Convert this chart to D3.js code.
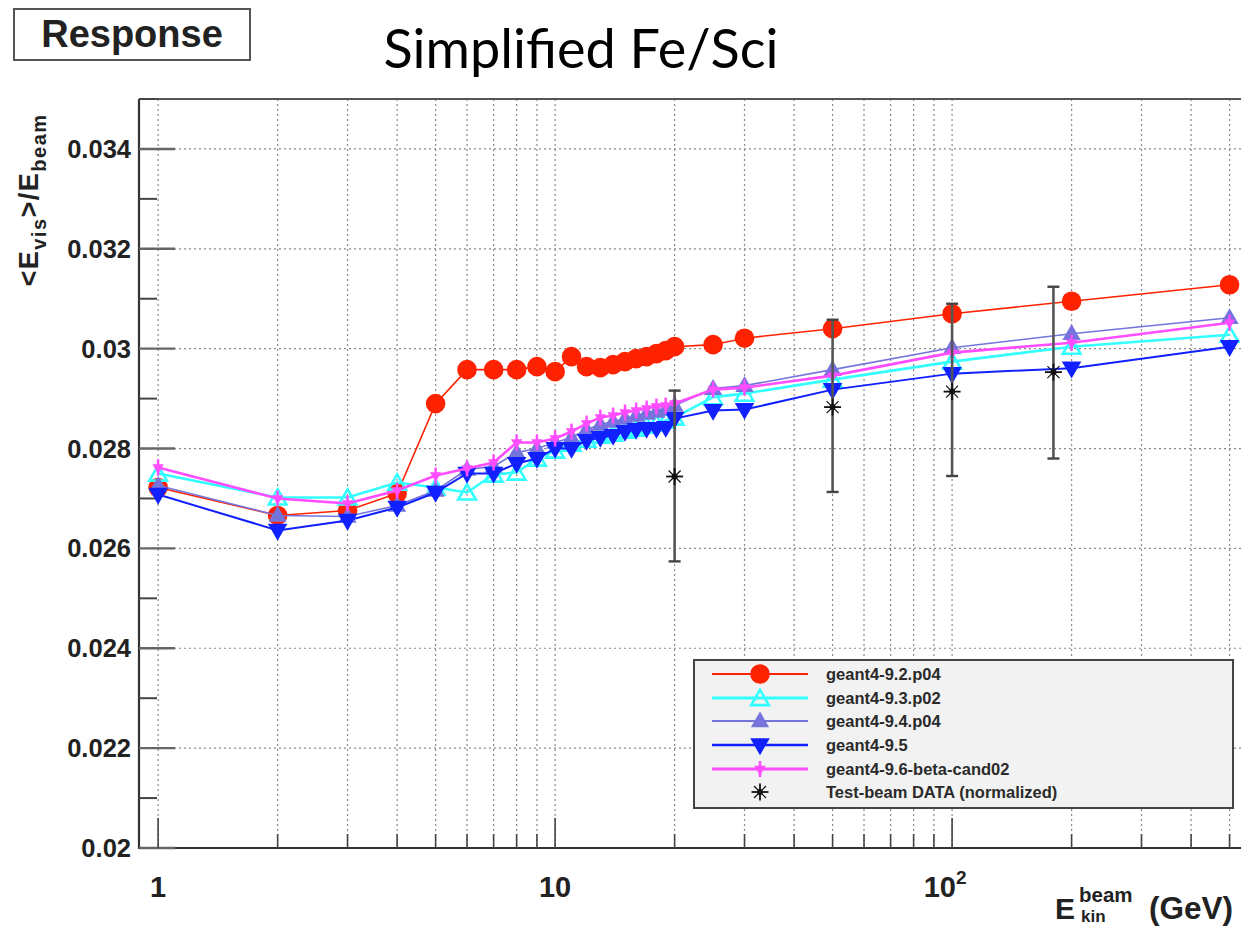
<!DOCTYPE html>
<html>
<head>
<meta charset="utf-8">
<script src="https://cdn.jsdelivr.net/npm/d3@7"></script>
<style>
  html, body { margin: 0; padding: 0; background: #fff; }
  svg { display: block; font-family: "Liberation Sans", Arial, sans-serif; }
</style>
</head>
<body>
<svg id="chart" width="1241" height="929"></svg>
<script>
// Beam energies (GeV) of the simulated runs
const energies = [1, 2, 3, 4, 5, 6, 7, 8, 9, 10, 11, 12, 13, 14, 15, 16, 17, 18, 19, 20, 25, 30, 50, 100, 200, 500];

// Mean visible energy fraction for each Geant4 version
const g4_92_p04 = [0.02722, 0.02666, 0.02676, 0.02710, 0.02890, 0.02958, 0.02958, 0.02958, 0.02964, 0.02954,
                   0.02984, 0.02964, 0.02962, 0.02968, 0.02974, 0.02980, 0.02984, 0.02990, 0.02996, 0.03004,
                   0.03008, 0.03021, 0.03040, 0.03070, 0.03095, 0.03128];
const g4_93_p02 = [0.02750, 0.02702, 0.02702, 0.02732, 0.02722, 0.02712, 0.02748, 0.02752, 0.02780, 0.02796,
                   0.02810, 0.02818, 0.02826, 0.02830, 0.02836, 0.02840, 0.02846, 0.02850, 0.02856, 0.02862,
                   0.02903, 0.02910, 0.02938, 0.02974, 0.03004, 0.03028];
const g4_94_p04 = [0.02726, 0.02666, 0.02664, 0.02686, 0.02716, 0.02758, 0.02764, 0.02792, 0.02800, 0.02812,
                   0.02822, 0.02838, 0.02848, 0.02854, 0.02860, 0.02866, 0.02870, 0.02874, 0.02878, 0.02886,
                   0.02920, 0.02926, 0.02958, 0.03002, 0.03030, 0.03062];
const g4_95     = [0.02708, 0.02636, 0.02656, 0.02682, 0.02712, 0.02750, 0.02750, 0.02770, 0.02780, 0.02800,
                   0.02800, 0.02816, 0.02822, 0.02826, 0.02834, 0.02838, 0.02840, 0.02840, 0.02842, 0.02860,
                   0.02876, 0.02878, 0.02918, 0.02950, 0.02961, 0.03004];
const g4_96_beta = [0.02762, 0.02700, 0.02690, 0.02716, 0.02746, 0.02760, 0.02772, 0.02812, 0.02812, 0.02820,
                    0.02834, 0.02850, 0.02862, 0.02866, 0.02872, 0.02876, 0.02880, 0.02884, 0.02886, 0.02890,
                    0.02918, 0.02922, 0.02946, 0.02992, 0.03012, 0.03052];

// Test-beam measurements with their error band
const dataEnergy = [20, 50, 100, 180];
const dataResp   = [0.02744, 0.02883, 0.02914, 0.02953];
const dataLow    = [0.02574, 0.02713, 0.02745, 0.02780];
const dataHigh   = [0.02916, 0.03058, 0.03090, 0.03124];

// Axis ticks
const yMajorTicks = [0.020, 0.022, 0.024, 0.026, 0.028, 0.030, 0.032, 0.034];
const yTickLabels = ["0.02", "0.022", "0.024", "0.026", "0.028", "0.03", "0.032", "0.034"];
const xMajorTicks = [1, 10, 100];

const legendLabels = ["geant4-9.2.p04", "geant4-9.3.p02", "geant4-9.4.p04", "geant4-9.5",
                      "geant4-9.6-beta-cand02", "Test-beam DATA (normalized)"];

const series = [
  { name: legendLabels[0], values: g4_92_p04, color: "#ff2200", width: 1.6, marker: "circle" },
  { name: legendLabels[1], values: g4_93_p02, color: "#33ffff", width: 2.6, marker: "openUp" },
  { name: legendLabels[2], values: g4_94_p04, color: "#7474dc", width: 1.6, marker: "up" },
  { name: legendLabels[3], values: g4_95,     color: "#1020ff", width: 2.0, marker: "down" },
  { name: legendLabels[4], values: g4_96_beta, color: "#ff4dff", width: 2.6, marker: "smallDown" }
];

const svg = d3.select("#chart");

const frame = { left: 139, top: 99, bottom: 848, right: 1261 };
const x = d3.scaleLog().domain([0.895, 600]).range([frame.left, frame.right]);
const y = d3.scaleLinear().domain([0.020, 0.035]).range([frame.bottom, frame.top]);

const plot = svg.append("g");

// grid
const xGridTicks = [];
for (let dec = 1; dec <= 100; dec *= 10) {
  for (let m = 1; m <= 9; m++) { if (m * dec <= 600) xGridTicks.push(m * dec); }
}
plot.append("g").selectAll("line").data(xGridTicks).join("line")
  .attr("x1", d => x(d)).attr("x2", d => x(d))
  .attr("y1", frame.top).attr("y2", frame.bottom)
  .attr("stroke", "#8a8a8a").attr("stroke-width", 1.2).attr("stroke-dasharray", "2,3");
plot.append("g").selectAll("line").data(yMajorTicks.filter(d => d > 0.02)).join("line")
  .attr("x1", frame.left).attr("x2", 1241)
  .attr("y1", d => y(d)).attr("y2", d => y(d))
  .attr("stroke", "#8a8a8a").attr("stroke-width", 1.2).attr("stroke-dasharray", "2,3");

// frame
plot.append("line").attr("x1", frame.left).attr("x2", 1241).attr("y1", frame.top).attr("y2", frame.top)
  .attr("stroke", "#555").attr("stroke-width", 1.8);
plot.append("line").attr("x1", frame.left).attr("x2", frame.left).attr("y1", frame.top).attr("y2", frame.bottom + 1)
  .attr("stroke", "#333").attr("stroke-width", 2.2);
plot.append("line").attr("x1", frame.left).attr("x2", 1241).attr("y1", frame.bottom).attr("y2", frame.bottom)
  .attr("stroke", "#333").attr("stroke-width", 2.2);

// y ticks (major and one minor between)
const yMinorTicks = d3.range(0.021, 0.035, 0.002);
plot.append("g").selectAll("line").data(yMajorTicks).join("line")
  .attr("x1", frame.left).attr("x2", frame.left + 36)
  .attr("y1", d => y(d)).attr("y2", d => y(d))
  .attr("stroke", "#666").attr("stroke-width", 2.4);
plot.append("g").selectAll("line").data(yMinorTicks).join("line")
  .attr("x1", frame.left).attr("x2", frame.left + 18)
  .attr("y1", d => y(d)).attr("y2", d => y(d))
  .attr("stroke", "#444").attr("stroke-width", 2);

// x ticks
plot.append("g").selectAll("line").data(xGridTicks).join("line")
  .attr("x1", d => x(d)).attr("x2", d => x(d))
  .attr("y1", frame.bottom).attr("y2", d => frame.bottom - (xMajorTicks.includes(d) ? 30 : 14))
  .attr("stroke", "#444").attr("stroke-width", 1.6);

// y tick labels
svg.append("g").selectAll("text").data(yMajorTicks).join("text")
  .attr("x", 131).attr("y", d => y(d) + 9)
  .attr("text-anchor", "end")
  .attr("font-size", 25.5).attr("font-weight", "bold").attr("fill", "#222")
  .text((d, i) => yTickLabels[i]);

// x tick labels
const xl = svg.append("g").attr("font-size", 29).attr("font-weight", "bold").attr("fill", "#222");
xl.append("text").attr("x", x(1)).attr("y", 897).attr("text-anchor", "middle").text("1");
xl.append("text").attr("x", x(10)).attr("y", 897).attr("text-anchor", "middle").text("10");
const t100 = xl.append("text").attr("x", x(100) - 7).attr("y", 897).attr("text-anchor", "middle");
t100.append("tspan").text("10");
t100.append("tspan").attr("font-size", 19).attr("dy", -13).text("2");

// axis titles
const yt = svg.append("text")
  .attr("transform", "translate(38,200) rotate(-90)")
  .attr("text-anchor", "middle").attr("font-size", 27).attr("font-weight", "bold").attr("fill", "#222")
  .attr("letter-spacing", 1.5);
yt.append("tspan").text("<E");
yt.append("tspan").attr("font-size", 20).attr("dy", 8).text("vis");
yt.append("tspan").attr("dy", -8).text(">/E");
yt.append("tspan").attr("font-size", 20).attr("dy", 8).text("beam");

const xt = svg.append("g").attr("font-weight", "bold").attr("fill", "#222");
xt.append("text").attr("x", 1055).attr("y", 919).attr("font-size", 30).text("E");
xt.append("text").attr("x", 1079).attr("y", 902).attr("font-size", 20.5).text("beam");
xt.append("text").attr("x", 1081).attr("y", 922).attr("font-size", 17).text("kin");
xt.append("text").attr("x", 1149).attr("y", 919).attr("font-size", 31.5).text("(GeV)");

// marker drawing
function drawMarker(g, type, color, cx, cy) {
  if (type === "circle") {
    g.append("circle").attr("cx", cx).attr("cy", cy).attr("r", 9.8).attr("fill", color);
  } else if (type === "openUp") {
    g.append("path").attr("d", d3.symbol(d3.symbolTriangle, 135)())
      .attr("transform", `translate(${cx},${cy + 2})`)
      .attr("fill", "none").attr("stroke", color).attr("stroke-width", 2.6);
  } else if (type === "up") {
    g.append("path").attr("d", d3.symbol(d3.symbolTriangle, 145)())
      .attr("transform", `translate(${cx},${cy + 1})`).attr("fill", color);
  } else if (type === "down") {
    g.append("path").attr("d", d3.symbol(d3.symbolTriangle, 165)())
      .attr("transform", `translate(${cx},${cy - 1}) rotate(180)`).attr("fill", color);
  } else if (type === "smallDown") {
    g.append("path").attr("d", d3.symbol(d3.symbolTriangle, 55)())
      .attr("transform", `translate(${cx},${cy}) rotate(180)`).attr("fill", color);
    g.append("line").attr("x1", cx).attr("x2", cx).attr("y1", cy - 8).attr("y2", cy + 8)
      .attr("stroke", color).attr("stroke-width", 2.5);
  } else if (type === "star") {
    const r = 8.5;
    [0, 45, 90, 135].forEach(a => {
      const rad = a * Math.PI / 180;
      g.append("line")
        .attr("x1", cx - r * Math.cos(rad)).attr("y1", cy - r * Math.sin(rad))
        .attr("x2", cx + r * Math.cos(rad)).attr("y2", cy + r * Math.sin(rad))
        .attr("stroke", color).attr("stroke-width", a % 90 === 0 ? 1.8 : 1.2);
    });
    g.append("circle").attr("cx", cx).attr("cy", cy).attr("r", 3).attr("fill", color);
  }
}

// simulation curves
const line = d3.line().x((d, i) => x(energies[i])).y(d => y(d));
series.forEach(s => {
  const g = plot.append("g");
  g.append("path").datum(s.values).attr("d", line)
    .attr("fill", "none").attr("stroke", s.color).attr("stroke-width", s.width);
  s.values.forEach((v, i) => drawMarker(g, s.marker, s.color, x(energies[i]), y(v)));
});

// test-beam data with error bars
const dg = plot.append("g");
dataEnergy.forEach((e, i) => {
  const cx = x(e);
  dg.append("line").attr("x1", cx).attr("x2", cx).attr("y1", y(dataLow[i])).attr("y2", y(dataHigh[i]))
    .attr("stroke", "#555").attr("stroke-width", 2.6);
  [dataLow[i], dataHigh[i]].forEach(v => {
    dg.append("line").attr("x1", cx - 6).attr("x2", cx + 6).attr("y1", y(v)).attr("y2", y(v))
      .attr("stroke", "#444").attr("stroke-width", 2.4);
  });
  drawMarker(dg, "star", "#111", cx, y(dataResp[i]));
});

// legend
const lg = svg.append("g");
lg.append("rect").attr("x", 694).attr("y", 660).attr("width", 539).attr("height", 148)
  .attr("fill", "#f2f2f2").attr("stroke", "#444").attr("stroke-width", 2);
const rowY = [674, 698, 721, 745, 769, 792];
series.forEach((s, i) => {
  lg.append("line").attr("x1", 712).attr("x2", 808).attr("y1", rowY[i]).attr("y2", rowY[i])
    .attr("stroke", s.color).attr("stroke-width", s.width + 0.6);
  drawMarker(lg, s.marker, s.color, 760, rowY[i]);
});
drawMarker(lg, "star", "#111", 760, rowY[5]);
lg.selectAll("text.lab").data(legendLabels).join("text")
  .attr("x", 826).attr("y", (d, i) => rowY[i] + 6)
  .attr("font-size", 16.5).attr("font-weight", "bold").attr("fill", "#2a2a2a").text(d => d);

// header box and title
svg.append("rect").attr("x", 14).attr("y", 9).attr("width", 236).attr("height", 51)
  .attr("fill", "#fff").attr("stroke", "#555").attr("stroke-width", 2);
svg.append("text").attr("x", 132).attr("y", 47).attr("text-anchor", "middle")
  .attr("font-size", 38).attr("font-weight", "bold").attr("fill", "#222").text("Response");
svg.append("text").attr("x", 581).attr("y", 68).attr("text-anchor", "middle")
  .attr("font-family", "Lato, 'Open Sans', sans-serif").attr("font-size", 54).attr("fill", "#000")
  .text("Simplified Fe/Sci");
</script>
</body>
</html>
